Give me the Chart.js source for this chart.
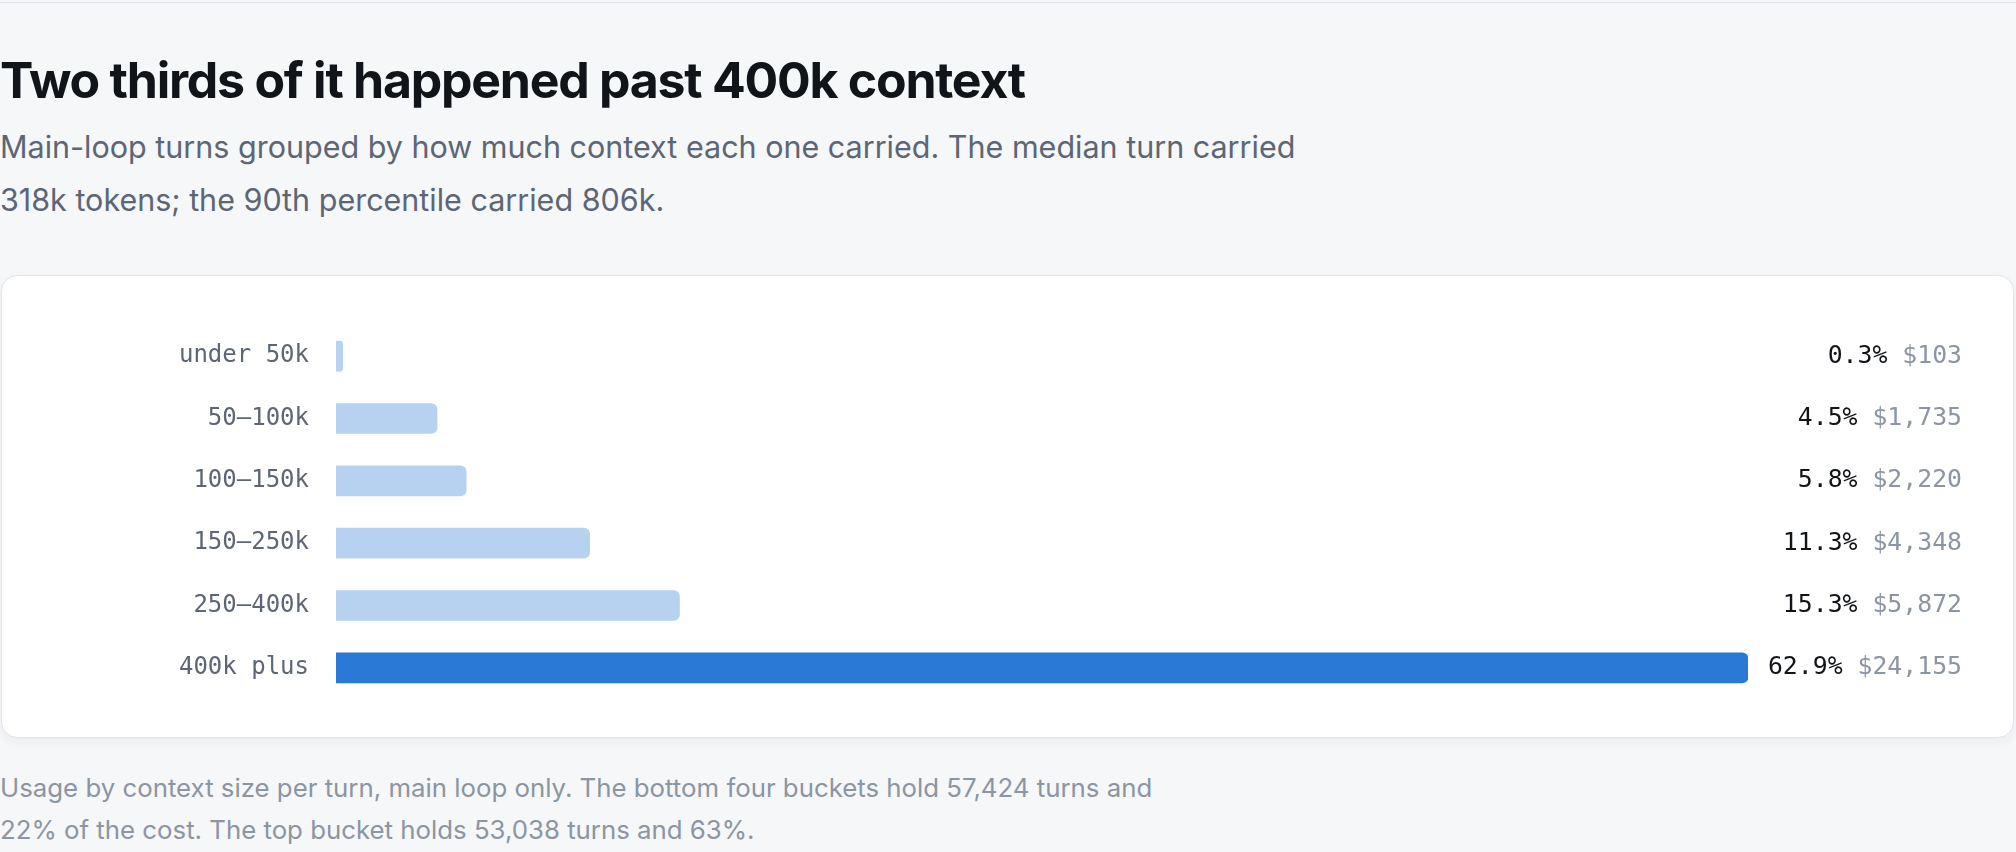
<!DOCTYPE html>
<html>
<head>
<meta charset="utf-8">
<title>Context size buckets</title>
<script src="https://cdn.jsdelivr.net/npm/chart.js@4.4.1/dist/chart.umd.min.js"></script>
<style>
  html, body { margin: 0; padding: 0; }
  body {
    background: #f6f7f9;
    width: 2016px;
    height: 852px;
    overflow: hidden;
    font-family: Inter, "Noto Sans", sans-serif;
    padding-top: 2px;
    box-sizing: border-box;
  }
  .rule { height: 1px; background: #dde2e8; }
  h1 {
    margin: 47px 0 0 0;
    font-size: 50px;
    line-height: 60px;
    font-weight: 700;
    letter-spacing: -0.025em;
    color: #111418;
  }
  .sub {
    margin: 10px 0 0 0;
    font-size: 30.5px;
    line-height: 53px;
    color: #5c6675;
    width: 1320px;
  }
  .card {
    position: absolute;
    left: 1px;
    top: 275px;
    width: 2013px;
    height: 463px;
    box-sizing: border-box;
    background: #fff;
    border: 1px solid #e1e4e8;
    border-radius: 16px;
    box-shadow: 0 4px 12px rgba(20, 30, 50, 0.05);
    padding: 49px 0 38px 0;
  }
  .plot { position: relative; width: 2011px; height: 374px; }
  .foot {
    position: absolute;
    left: 0;
    top: 767px;
    margin: 0;
    font-size: 25.8px;
    line-height: 42px;
    color: #8b95a3;
    width: 1170px;
  }
</style>
</head>
<body>
<div class="rule"></div>
<h1>Two thirds of it happened past 400k context</h1>
<p class="sub">Main-loop turns grouped by how much context each one carried. The median turn carried 318k tokens; the 90th percentile carried 806k.</p>
<div class="card"><div class="plot"><canvas id="buckets"></canvas></div></div>
<p class="foot">Usage by context size per turn, main loop only. The bottom four buckets hold 57,424 turns and 22% of the cost. The top bucket holds 53,038 turns and 63%.</p>

<script>
"use strict";

const buckets = ["under 50k", "50–100k", "100–150k", "150–250k", "250–400k", "400k plus"],
  sharePct = [0.3, 4.5, 5.8, 11.3, 15.3, 62.9], // share of cost, %
  costUsd = [103, 1735, 2220, 4348, 5872, 24155],
  topBucket = "400k plus";

const monoFont = "'DejaVu Sans Mono', 'Liberation Mono', monospace";

// pct + cost printed at the right edge of the card, one row per bucket
const rowLabels = {
  id: "rowLabels",
  afterDatasetsDraw(chart) {
    const ctx = chart.ctx,
      y = chart.scales.y,
      right = chart.width - 51;
    ctx.save();
    ctx.font = `24.8px ${monoFont}`;
    ctx.textBaseline = "middle";
    ctx.textAlign = "right";
    const gap = ctx.measureText(" ").width;
    buckets.forEach((b, i) => {
      const py = y.getPixelForValue(i),
        cost = "$" + costUsd[i].toLocaleString("en-US");
      ctx.fillStyle = "#8b95a3";
      ctx.fillText(cost, right, py);
      const w = ctx.measureText(cost).width;
      ctx.fillStyle = "#111418";
      ctx.fillText(sharePct[i].toFixed(1) + "%", right - w - gap, py);
    });
    ctx.restore();
  },
};

function drawChart() {
  const ctx = document.getElementById("buckets").getContext("2d");
  new Chart(ctx, {
    type: "bar",
    data: {
      labels: buckets,
      datasets: [{
        data: sharePct,
        backgroundColor: buckets.map(b => b === topBucket ? "#2b79d6" : "#b7d1f1"),
        borderRadius: 6,
        borderSkipped: "start",
        barThickness: 30,
      }],
    },
    options: {
      indexAxis: "y",
      responsive: true,
      maintainAspectRatio: false,
      animation: false,
      layout: { padding: { left: 0, right: 265, top: 0, bottom: 0 } },
      plugins: { legend: { display: false }, tooltip: { enabled: false } },
      scales: {
        x: { display: false, min: 0, max: Math.max(...sharePct) },
        y: {
          grid: { display: false, drawTicks: false },
          border: { display: false },
          ticks: {
            padding: 27,
            color: "#5c6675",
            font: { family: monoFont, size: 24 },
          },
          afterFit(scale) {
            scale.width = 334;
            // the tick padding should not eat into the rows
            scale.paddingTop = 0;
            scale.paddingBottom = 0;
          },
        },
      },
    },
    plugins: [rowLabels],
  });
}

drawChart();
</script>
</body>
</html>
